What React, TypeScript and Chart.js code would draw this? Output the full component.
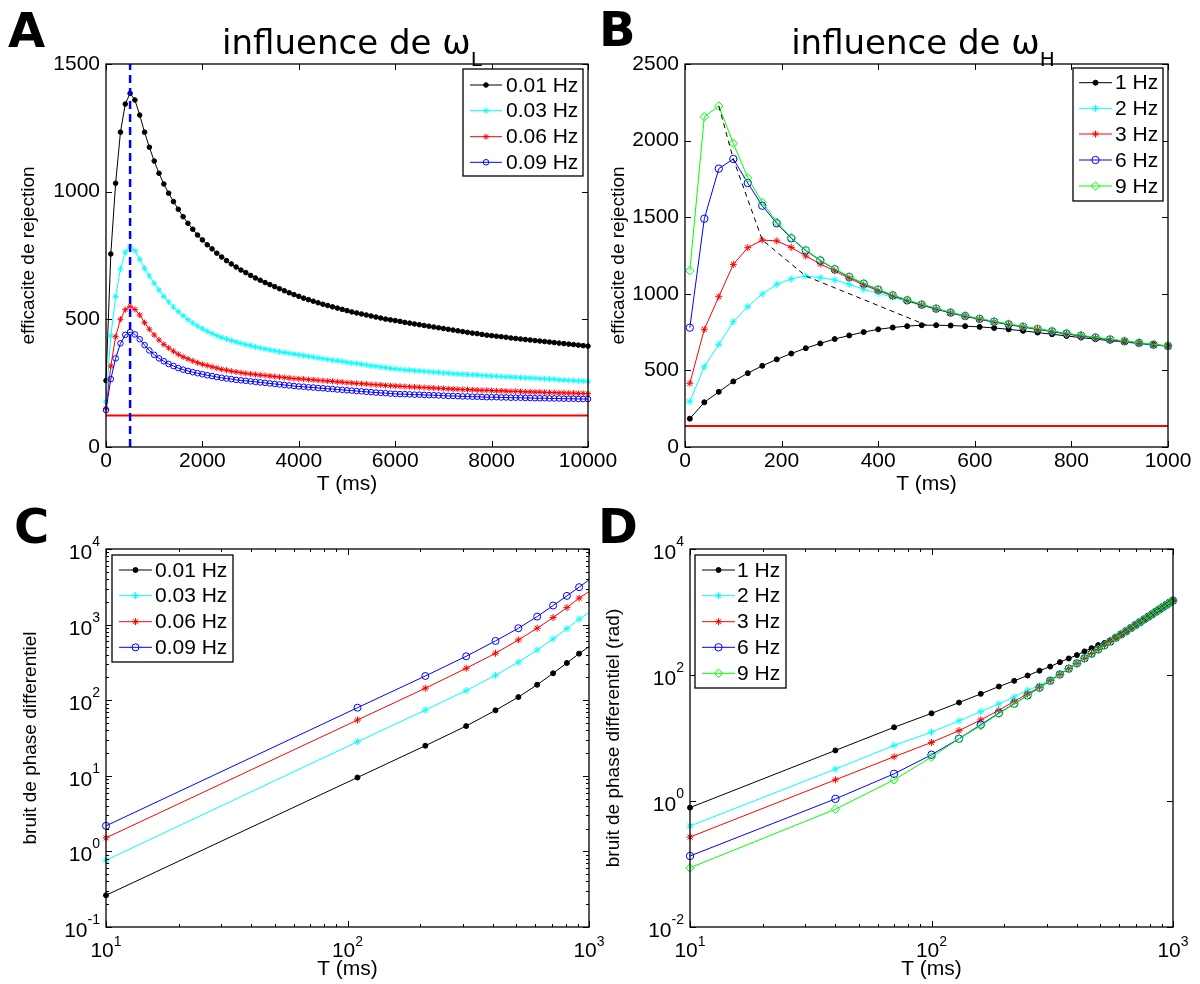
import React, { useEffect, useRef } from 'react';
import { Chart, registerables } from 'chart.js';

Chart.register(...registerables);

// ---------------- DATA ----------------
// Panel A : influence de omega_L (T in ms)
const T_A = [
  0, 100, 200, 300, 400, 500, 600, 700, 800, 900,
  1000, 1100, 1200, 1300, 1400, 1500, 1600, 1700, 1800, 1900,
  2000, 2100, 2200, 2300, 2400, 2500, 2600, 2700, 2800, 2900,
  3000, 3100, 3200, 3300, 3400, 3500, 3600, 3700, 3800, 3900,
  4000, 4100, 4200, 4300, 4400, 4500, 4600, 4700, 4800, 4900,
  5000, 5100, 5200, 5300, 5400, 5500, 5600, 5700, 5800, 5900,
  6000, 6100, 6200, 6300, 6400, 6500, 6600, 6700, 6800, 6900,
  7000, 7100, 7200, 7300, 7400, 7500, 7600, 7700, 7800, 7900,
  8000, 8100, 8200, 8300, 8400, 8500, 8600, 8700, 8800, 8900,
  9000, 9100, 9200, 9300, 9400, 9500, 9600, 9700, 9800, 9900,
  10000,
];
const A_001 = [
  260, 756, 1033, 1233, 1343, 1385, 1359, 1300, 1233, 1174,
  1120, 1072, 1030, 994, 961, 931, 902, 876, 853, 830,
  811, 792, 776, 759, 744, 730, 717, 705, 693, 683,
  672, 662, 653, 644, 636, 628, 620, 612, 604, 597,
  590, 583, 577, 571, 565, 559, 554, 549, 544, 539,
  534, 529, 525, 521, 517, 513, 509, 505, 501, 498,
  495, 492, 488, 485, 482, 479, 476, 473, 470, 467,
  464, 461, 458, 455, 452, 449, 446, 444, 441, 438,
  436, 434, 432, 430, 427, 425, 423, 421, 419, 417,
  415, 413, 411, 409, 407, 405, 403, 401, 399, 397,
  395,
];
const A_003 = [
  177, 435, 589, 697, 763, 786, 769, 735, 700, 670,
  641, 615, 590, 568, 548, 530, 514, 499, 486, 474,
  463, 453, 444, 436, 429, 423, 417, 411, 406, 401,
  397, 392, 388, 384, 380, 377, 373, 370, 367, 364,
  361, 358, 355, 352, 349, 346, 343, 340, 338, 335,
  332, 329, 327, 324, 321, 318, 316, 313, 311, 308,
  306, 304, 302, 301, 299, 298, 296, 295, 293, 292,
  290, 289, 287, 286, 285, 284, 283, 282, 280, 279,
  278, 277, 276, 275, 274, 273, 272, 271, 270, 269,
  268, 267, 266, 265, 263, 262, 261, 260, 259, 258,
  257,
];
const A_006 = [
  151, 317, 432, 500, 538, 551, 539, 517, 487, 461,
  439, 419, 402, 388, 375, 363, 353, 345, 337, 330,
  324, 319, 314, 309, 304, 301, 297, 294, 291, 288,
  286, 284, 282, 280, 278, 276, 274, 272, 270, 268,
  267, 266, 264, 263, 261, 260, 258, 257, 255, 254,
  252, 251, 249, 248, 247, 245, 244, 243, 241, 240,
  239, 238, 237, 236, 235, 234, 233, 232, 231, 230,
  229, 228, 227, 226, 225, 225, 224, 223, 222, 222,
  221, 220, 220, 219, 218, 218, 217, 216, 216, 215,
  215, 214, 213, 213, 212, 212, 211, 211, 210, 210,
  209,
];
const A_009 = [
  145, 266, 347, 406, 439, 450, 441, 422, 399, 378,
  361, 347, 336, 325, 317, 309, 303, 298, 293, 289,
  285, 281, 278, 274, 271, 268, 266, 263, 261, 259,
  257, 255, 253, 251, 249, 247, 245, 243, 241, 239,
  237, 236, 234, 233, 231, 230, 228, 227, 225, 224,
  222, 221, 219, 218, 216, 215, 213, 212, 211, 209,
  208, 207, 207, 206, 205, 205, 204, 203, 203, 202,
  201, 200, 200, 199, 198, 198, 197, 197, 196, 195,
  195, 195, 194, 194, 193, 193, 193, 192, 192, 191,
  191, 191, 190, 190, 190, 189, 189, 189, 188, 188,
  188,
];
const A_REF_T = [0, 10000];
const A_REF_Y = 123;
const A_PEAK_T = 500;
const A_LABELS = ['0.01 Hz', '0.03 Hz', '0.06 Hz', '0.09 Hz'];
const A_X_TICKS = [0, 2000, 4000, 6000, 8000, 10000];
const A_Y_TICKS = [0, 500, 1000, 1500];

// Panel B : influence de omega_H
const T_B = [10, 40, 70, 100, 130, 160, 190, 220, 250, 280, 310, 340, 370, 400, 430, 460, 490,
  520, 550, 580, 610, 640, 670, 700, 730, 760, 790, 820, 850, 880, 910, 940, 970, 1000];
const B_1 = [185, 292, 360, 428, 482, 530, 572, 610, 645, 676, 705, 728, 750, 768, 780, 789, 795,
  795, 793, 789, 784, 777, 768, 758, 747, 736, 725, 714, 704, 694, 685, 676, 667, 659];
const B_2 = [296, 524, 670, 818, 916, 999, 1062, 1097, 1116, 1105, 1090, 1062, 1029, 1005, 977, 950, 924,
  899, 874, 852, 833, 815, 798, 782, 767, 752, 737, 724, 711, 699, 688, 677, 666, 657];
const B_3 = [416, 768, 981, 1192, 1301, 1351, 1345, 1303, 1247, 1195, 1149, 1101, 1057, 1020, 986, 955, 926,
  900, 875, 853, 834, 816, 799, 783, 768, 753, 738, 725, 712, 700, 689, 678, 667, 658];
const B_6 = [779, 1490, 1817, 1880, 1723, 1575, 1460, 1362, 1283, 1218, 1160, 1110, 1066, 1027, 990, 958, 929,
  903, 877, 855, 836, 818, 801, 785, 770, 755, 740, 727, 714, 702, 690, 679, 668, 659];
const B_9 = [1151, 2156, 2226, 1982, 1758, 1597, 1469, 1366, 1286, 1221, 1162, 1112, 1068, 1029, 992, 960, 931,
  905, 879, 857, 838, 820, 803, 787, 772, 757, 742, 729, 716, 704, 692, 681, 670, 660];
const B_ENV_T = [70, 100, 160, 250, 500];
const B_ENV = [2226, 1880, 1351, 1116, 795];
const B_REF_T = [0, 1000];
const B_REF_Y = 137;
const B_LABELS = ['1 Hz', '2 Hz', '3 Hz', '6 Hz', '9 Hz'];
const B_X_TICKS = [0, 200, 400, 600, 800, 1000];
const B_Y_TICKS = [0, 500, 1000, 1500, 2000, 2500];

// Panel C : bruit de phase differentiel (omega_L)
const T_C = [10, 110, 210, 310, 410, 510, 610, 710, 810, 910, 1000];
const C_001 = [0.263, 9.5, 25, 45.5, 73.5, 110, 160, 227, 311, 413, 511];
const C_003 = [0.764, 28.2, 74, 134, 214, 318, 462, 647, 885, 1178, 1442];
const C_006 = [1.51, 54.7, 144, 264, 418, 627, 896, 1239, 1679, 2238, 2733];
const C_009 = [2.18, 79.6, 209, 381, 608, 896, 1276, 1786, 2399, 3126, 3908];
const C_Y_TICKS = [0.1, 1, 10, 100, 1000, 10000];

// Panel D : bruit de phase differentiel (omega_H)
const T_D = T_B;
const D_1 = [0.785, 6.35, 14.8, 24.6, 36.5, 50.2, 65.6, 80.8, 98, 117, 136, 160, 183, 207, 237, 267, 298,
  322, 355, 395, 443, 498, 560, 624, 692, 765, 843, 925, 1012, 1103, 1200, 1301, 1407, 1519];
const D_2 = [0.40, 3.21, 7.62, 12.4, 18.7, 26.2, 34.8, 45, 57.3, 68, 84, 104, 127, 154, 185, 219, 256,
  297, 341, 390, 442, 498, 558, 623, 691, 764, 842, 924, 1011, 1102, 1199, 1300, 1406, 1518];
const D_3 = [0.268, 2.17, 5.04, 8.51, 13.1, 19.4, 27.5, 38.3, 50.2, 64, 81.5, 102, 126, 153.5, 184, 218, 255,
  296, 340, 389, 441, 497, 557, 622, 691, 764, 842, 924, 1011, 1102, 1199, 1300, 1406, 1518];
const D_6 = [0.134, 1.08, 2.70, 5.42, 9.75, 16.3, 24.8, 35, 47.4, 63, 81, 102, 126, 153.5, 184, 218, 255,
  296, 340, 389, 441, 497, 557, 622, 691, 764, 842, 924, 1011, 1102, 1199, 1300, 1406, 1518];
const D_9 = [0.087, 0.74, 2.17, 4.98, 9.7, 15.7, 24.4, 34.8, 47.7, 63, 81, 102, 126, 153, 184, 218, 255,
  296, 340, 389, 441, 497, 557, 622, 691, 764, 842, 924, 1011, 1102, 1199, 1300, 1406, 1518];
const D_Y_TICKS = [0.01, 1, 100, 10000];

const LOG_X_TICKS = [10, 100, 1000];
const LOG_X_MINOR = [20, 30, 40, 50, 60, 70, 80, 90, 200, 300, 400, 500, 600, 700, 800, 900];
const C_Y_MINOR = [0.2, 0.3, 0.4, 0.5, 0.6, 0.7, 0.8, 0.9, 2, 3, 4, 5, 6, 7, 8, 9, 20, 30, 40, 50, 60, 70, 80, 90,
  200, 300, 400, 500, 600, 700, 800, 900, 2000, 3000, 4000, 5000, 6000, 7000, 8000, 9000];

// ---------------- STYLE ----------------
const FONT = '"Liberation Sans", Arial, Helvetica, sans-serif';
const TFONT = '"DejaVu Sans", Verdana, sans-serif';
const TICK_SIZE = 21;
const X_TITLE_SIZE = 21;
const Y_TITLE_SIZE = 19;
const LEG_SIZE = 21;

const K = { color: '#000000', shape: 'circle', filled: true };
const CY = { color: '#00ffff', shape: 'star', filled: false };
const RD = { color: '#ff0000', shape: 'star', filled: false };
const BL = { color: '#0000ff', shape: 'circle', filled: false };
const GR = { color: '#00ff00', shape: 'rectRot', filled: false };

function series(label: string, xs: number[], ys: number[], sty: any, radius: number, order: number, hideLast = false) {
  const n = xs.length;
  return {
    label,
    data: xs.map((x, i) => ({ x, y: ys[i] })),
    borderColor: sty.color,
    backgroundColor: sty.filled ? sty.color : 'rgba(0,0,0,0)',
    pointBorderColor: sty.color,
    pointBackgroundColor: sty.filled ? sty.color : 'rgba(0,0,0,0)',
    pointStyle: sty.shape,
    pointRadius: hideLast ? (c: any) => (c.dataIndex === n - 1 ? 0 : radius) : radius,
    pointBorderWidth: 1,
    borderWidth: 1,
    tension: 0,
    fill: false,
    clip: false,
    order,
    legendRadius: radius,
    legendShape: sty.shape,
    legendFilled: sty.filled,
  };
}

function helperLine(label: string, xs: number[], ys: number[], color: string, width: number, dash: number[], order: number) {
  return {
    label,
    data: xs.map((x, i) => ({ x, y: ys[i] })),
    borderColor: color,
    borderWidth: width,
    borderDash: dash,
    pointRadius: 0,
    tension: 0,
    fill: false,
    order,
    isHelper: true,
  };
}

function drawMarker(ctx: CanvasRenderingContext2D, shape: string, x: number, y: number, r: number, color: string, filled: boolean) {
  ctx.save();
  ctx.strokeStyle = color;
  ctx.fillStyle = color;
  ctx.lineWidth = 1;
  ctx.beginPath();
  if (shape === 'circle') {
    ctx.arc(x, y, r, 0, Math.PI * 2);
    if (filled) ctx.fill();
    ctx.stroke();
  } else if (shape === 'star') {
    for (let k = 0; k < 4; k++) {
      const an = (k * Math.PI) / 4;
      ctx.moveTo(x - r * Math.cos(an), y - r * Math.sin(an));
      ctx.lineTo(x + r * Math.cos(an), y + r * Math.sin(an));
    }
    ctx.stroke();
  } else {
    ctx.moveTo(x, y - r);
    ctx.lineTo(x + r, y);
    ctx.lineTo(x, y + r);
    ctx.lineTo(x - r, y);
    ctx.closePath();
    ctx.stroke();
  }
  ctx.restore();
}

function pow10Label(ctx: CanvasRenderingContext2D, v: number, x: number, y: number, mode: string) {
  const e = Math.round(Math.log10(v));
  const ex = String(e);
  const base = `${TICK_SIZE}px ${FONT}`;
  const exf = `14px ${FONT}`;
  ctx.font = base;
  const wb = ctx.measureText('10').width;
  ctx.font = exf;
  const we = ctx.measureText(ex).width;
  let x0: number, yb: number, ye: number;
  if (mode === 'x') {
    x0 = x - (wb + we) / 2;
    yb = y + 30;
    ye = y + 19;
  } else {
    x0 = x - wb - we;
    yb = y + 10;
    ye = y - 3;
  }
  ctx.fillStyle = '#000';
  ctx.textAlign = 'left';
  ctx.textBaseline = 'alphabetic';
  ctx.font = base;
  ctx.fillText('10', x0, yb);
  ctx.font = exf;
  ctx.fillText(ex, x0 + wb, ye);
}

const matlabPlugin = {
  id: 'matlab',
  afterDatasetsDraw(chart: any, _args: any, o: any) {
    const ctx: CanvasRenderingContext2D = chart.ctx;
    const a = chart.chartArea;
    const sx = chart.scales.x;
    const sy = chart.scales.y;
    ctx.save();
    const seg = (x0: number, y0: number, x1: number, y1: number) => {
      ctx.beginPath();
      ctx.moveTo(x0, y0);
      ctx.lineTo(x1, y1);
      ctx.stroke();
    };
    ctx.strokeStyle = '#000';
    ctx.lineWidth = 1;
    const xt = (v: number, len: number) => {
      const p = Math.round(sx.getPixelForValue(v)) + 0.5;
      seg(p, a.bottom, p, a.bottom - len);
      seg(p, a.top, p, a.top + len);
    };
    const yt = (v: number, len: number) => {
      const p = Math.round(sy.getPixelForValue(v)) + 0.5;
      seg(a.left, p, a.left + len, p);
      seg(a.right, p, a.right - len, p);
    };
    (o.xMajor || []).forEach((v: number) => xt(v, 6));
    (o.xMinor || []).forEach((v: number) => xt(v, 3));
    (o.yMajor || []).forEach((v: number) => yt(v, 6));
    (o.yMinor || []).forEach((v: number) => yt(v, 3));
    ctx.lineWidth = 1.3;
    ctx.strokeRect(a.left, a.top, a.right - a.left, a.bottom - a.top);

    if (o.logX) (o.xMajor || []).forEach((v: number) => pow10Label(ctx, v, sx.getPixelForValue(v), a.bottom, 'x'));
    if (o.logY) (o.yMajor || []).forEach((v: number) => pow10Label(ctx, v, a.left - 6, sy.getPixelForValue(v), 'y'));

    // legend box
    const L = o.legend;
    if (L) {
      ctx.fillStyle = '#fff';
      ctx.fillRect(L.x, L.y, L.w, L.h);
      ctx.strokeStyle = '#000';
      ctx.lineWidth = 1.3;
      ctx.strokeRect(L.x, L.y, L.w, L.h);
      const ds = chart.data.datasets.filter((d: any) => !d.isHelper);
      ds.forEach((d: any, i: number) => {
        const y = L.rows[i];
        ctx.strokeStyle = d.borderColor;
        ctx.lineWidth = 1;
        seg(L.lx0, y, L.lx1, y);
        drawMarker(ctx, d.legendShape, (L.lx0 + L.lx1) / 2, y, d.legendRadius, d.borderColor, d.legendFilled);
        ctx.fillStyle = '#000';
        ctx.font = `${LEG_SIZE}px ${FONT}`;
        ctx.textAlign = 'left';
        ctx.textBaseline = 'middle';
        ctx.fillText(d.label, L.tx, y + 1);
      });
    }
    ctx.restore();
  },
};

// ---------------- LAYOUT ----------------
type Geo = {
  c: { l: number; t: number; w: number; h: number };
  a: { l: number; t: number; r: number; b: number };
  yTitleX: number;
  xTitleY: number;
};
const GEO_A: Geo = { c: { l: 0, t: 0, w: 640, h: 510 }, a: { l: 106, t: 64, r: 588, b: 447 }, yTitleX: 28, xTitleY: 484 };
const GEO_B: Geo = { c: { l: 580, t: 0, w: 620, h: 510 }, a: { l: 685, t: 64, r: 1168, b: 447 }, yTitleX: 618, xTitleY: 484 };
const GEO_C: Geo = { c: { l: 0, t: 490, w: 640, h: 500 }, a: { l: 106, t: 549, r: 589, b: 927 }, yTitleX: 30, xTitleY: 969 };
const GEO_D: Geo = { c: { l: 580, t: 490, w: 620, h: 500 }, a: { l: 690, t: 549, r: 1173, b: 927 }, yTitleX: 613, xTitleY: 969 };

function layoutOf(g: Geo) {
  const lhY = Y_TITLE_SIZE * 1.2;
  const lhX = X_TITLE_SIZE * 1.2;
  const padLeft = Math.round(g.yTitleX - g.c.l - 4 - lhY / 2);
  const yW = g.a.l - g.c.l - padLeft;
  const padTop = g.a.t - g.c.t;
  const padRight = g.c.l + g.c.w - g.a.r;
  const padBottom = Math.round(g.c.t + g.c.h - (g.xTitleY + lhX / 2 + 4));
  const xH = g.c.t + g.c.h - padBottom - g.a.b;
  return { padLeft, yW, padTop, padRight, padBottom, xH };
}

function legendRel(g: Geo, box: any) {
  return {
    x: box.x - g.c.l, y: box.y - g.c.t, w: box.w, h: box.h,
    rows: box.rows.map((r: number) => r - g.c.t),
    lx0: box.lx0 - g.c.l, lx1: box.lx1 - g.c.l, tx: box.tx - g.c.l,
  };
}

function axisTitle(text: string, size: number) {
  return { display: true, text, color: '#000', font: { family: FONT, size }, padding: { top: 4, bottom: 4 } };
}

function buildConfig(g: Geo, datasets: any[], xs: any, ys: any, plug: any) {
  const L = layoutOf(g);
  return {
    type: 'line',
    data: { datasets },
    plugins: [matlabPlugin],
    options: {
      responsive: false,
      animation: false,
      devicePixelRatio: 1,
      events: [],
      layout: { padding: { left: L.padLeft, right: L.padRight, top: L.padTop, bottom: L.padBottom } },
      plugins: { legend: { display: false }, title: { display: false }, tooltip: { enabled: false }, matlab: plug },
      scales: {
        x: { ...xs, afterFit: (s: any) => { s.height = L.xH; } },
        y: { ...ys, afterFit: (s: any) => { s.width = L.yW; } },
      },
    },
  };
}

function linAxis(min: number, max: number, step: number, title: string, titleSize: number, pad: number) {
  return {
    type: 'linear',
    min, max,
    grid: { display: false, drawTicks: false },
    border: { display: false },
    ticks: {
      stepSize: step, autoSkip: false, maxRotation: 0, color: '#000', padding: pad,
      font: { family: FONT, size: TICK_SIZE },
      callback: (v: any) => String(v),
    },
    title: axisTitle(title, titleSize),
  };
}

function logAxis(min: number, max: number, title: string, titleSize: number) {
  return {
    type: 'logarithmic',
    min, max,
    grid: { display: false, drawTicks: false },
    border: { display: false },
    ticks: { display: false },
    title: axisTitle(title, titleSize),
  };
}

function configA() {
  const ds = [
    series(A_LABELS[0], T_A, A_001, K, 2.3, 9),
    series(A_LABELS[1], T_A, A_003, CY, 3, 8),
    series(A_LABELS[2], T_A, A_006, RD, 3, 7),
    series(A_LABELS[3], T_A, A_009, BL, 2.8, 6),
    helperLine('ref', A_REF_T, [A_REF_Y, A_REF_Y], '#ff0000', 2, [], 5),
    helperLine('peak', [A_PEAK_T, A_PEAK_T], [A_Y_TICKS[0], A_Y_TICKS[A_Y_TICKS.length - 1]], '#0000ff', 2.5, [8, 5], 4),
  ];
  return buildConfig(GEO_A, ds,
    linAxis(0, 10000, 2000, 'T (ms)', X_TITLE_SIZE, 2),
    linAxis(0, 1500, 500, 'efficacite de rejection', Y_TITLE_SIZE, 6),
    {
      xMajor: A_X_TICKS, yMajor: A_Y_TICKS,
      legend: legendRel(GEO_A, { x: 463, y: 69, w: 120, h: 107, rows: [85, 110.7, 136.7, 162.3], lx0: 470, lx1: 502, tx: 506 }),
    });
}

function configB() {
  const ds = [
    series(B_LABELS[0], T_B, B_1, K, 2.5, 9),
    series(B_LABELS[1], T_B, B_2, CY, 3.5, 8),
    series(B_LABELS[2], T_B, B_3, RD, 3.5, 7),
    series(B_LABELS[3], T_B, B_6, BL, 3.7, 6),
    series(B_LABELS[4], T_B, B_9, GR, 4.2, 5),
    helperLine('ref', B_REF_T, [B_REF_Y, B_REF_Y], '#ff0000', 2, [], 4),
    helperLine('env', B_ENV_T, B_ENV, '#000000', 1, [5, 4], 3),
  ];
  return buildConfig(GEO_B, ds,
    linAxis(0, 1000, 200, 'T (ms)', X_TITLE_SIZE, 2),
    linAxis(0, 2500, 500, 'efficacite de rejection', Y_TITLE_SIZE, 6),
    {
      xMajor: B_X_TICKS, yMajor: B_Y_TICKS,
      legend: legendRel(GEO_B, { x: 1073, y: 68, w: 90, h: 133, rows: [82.7, 108.3, 134, 160, 186], lx0: 1079, lx1: 1112, tx: 1115 }),
    });
}

function configC() {
  const ds = [
    series(A_LABELS[0], T_C, C_001, K, 2.5, 9, true),
    series(A_LABELS[1], T_C, C_003, CY, 3.5, 8, true),
    series(A_LABELS[2], T_C, C_006, RD, 3.5, 7, true),
    series(A_LABELS[3], T_C, C_009, BL, 3.5, 6, true),
  ];
  return buildConfig(GEO_C, ds,
    logAxis(10, 1000, 'T (ms)', X_TITLE_SIZE),
    logAxis(0.1, 10000, 'bruit de phase differentiel', Y_TITLE_SIZE),
    {
      xMajor: LOG_X_TICKS, xMinor: LOG_X_MINOR, yMajor: C_Y_TICKS, yMinor: C_Y_MINOR, logX: true, logY: true,
      legend: legendRel(GEO_C, { x: 112, y: 555, w: 121, h: 107, rows: [570, 595.7, 621.7, 647.3], lx0: 119, lx1: 152, tx: 155 }),
    });
}

function configD() {
  const ds = [
    series(B_LABELS[0], T_D, D_1, K, 2.5, 9),
    series(B_LABELS[1], T_D, D_2, CY, 3.5, 8),
    series(B_LABELS[2], T_D, D_3, RD, 3.5, 7),
    series(B_LABELS[3], T_D, D_6, BL, 3.7, 6),
    series(B_LABELS[4], T_D, D_9, GR, 4.2, 5),
  ];
  return buildConfig(GEO_D, ds,
    logAxis(10, 1000, 'T (ms)', X_TITLE_SIZE),
    logAxis(0.01, 10000, 'bruit de phase differentiel (rad)', Y_TITLE_SIZE),
    {
      xMajor: LOG_X_TICKS, xMinor: LOG_X_MINOR, yMajor: D_Y_TICKS, logX: true, logY: true,
      legend: legendRel(GEO_D, { x: 695, y: 555, w: 91, h: 133, rows: [570, 595.7, 621.7, 647.3, 673.3], lx0: 702, lx1: 735, tx: 737 }),
    });
}

function ChartPanel({ geo, build }: { geo: Geo; build: () => any }) {
  const ref = useRef<HTMLCanvasElement>(null);
  useEffect(() => {
    const chart = new Chart(ref.current as HTMLCanvasElement, build());
    return () => chart.destroy();
  }, []);
  return (
    <canvas
      ref={ref}
      width={geo.c.w}
      height={geo.c.h}
      style={{ position: 'absolute', left: geo.c.l, top: geo.c.t, width: geo.c.w, height: geo.c.h }}
    />
  );
}

const letterStyle = (left: number, top: number): React.CSSProperties => ({
  position: 'absolute', left, top, fontFamily: TFONT, fontWeight: 'bold', fontSize: 48, lineHeight: '48px', color: '#000',
});
const titleStyle = (cx: number): React.CSSProperties => ({
  position: 'absolute', left: cx - 250, width: 500, top: 22, textAlign: 'center', fontFamily: TFONT, fontSize: 34,
  lineHeight: '40px', color: '#000', whiteSpace: 'nowrap',
});
const subStyle: React.CSSProperties = { fontSize: 20, position: 'relative', top: 12 };

export default function App() {
  return (
    <div style={{ position: 'absolute', left: 0, top: 0, width: 1200, height: 984, overflow: 'hidden', background: '#fff' }}>
      <ChartPanel geo={GEO_A} build={configA} />
      <ChartPanel geo={GEO_B} build={configB} />
      <ChartPanel geo={GEO_C} build={configC} />
      <ChartPanel geo={GEO_D} build={configD} />
      <div style={letterStyle(8, 6)}>A</div>
      <div style={letterStyle(599, 5)}>B</div>
      <div style={letterStyle(14, 502)}>C</div>
      <div style={letterStyle(598, 502)}>D</div>
      <div style={titleStyle(352)}>influence de ω<span style={subStyle}>L</span></div>
      <div style={titleStyle(923)}>influence de ω<span style={subStyle}>H</span></div>
    </div>
  );
}
